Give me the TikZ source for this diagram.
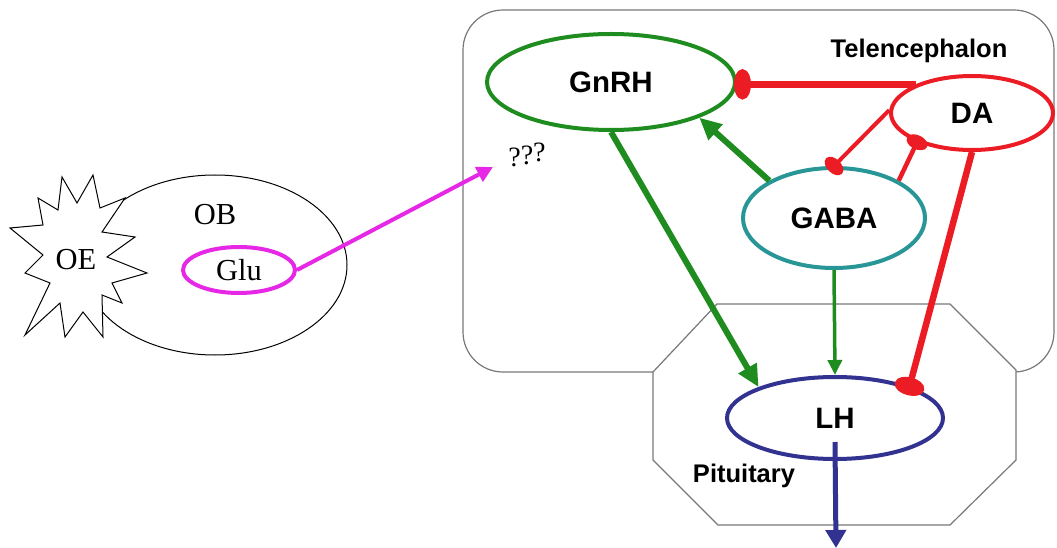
\documentclass[tikz,border=0pt]{standalone}
\usepackage{fontspec}
\setmainfont{Liberation Serif}
\newfontfamily\arialfont{Liberation Sans}
\usetikzlibrary{shapes.geometric,arrows.meta}

\definecolor{grn}{RGB}{30,140,30}
\definecolor{rd}{RGB}{236,28,36}
\definecolor{teal2}{RGB}{40,150,150}
\definecolor{blu}{RGB}{50,50,145}
\definecolor{mag}{RGB}{230,40,230}
\definecolor{edge}{RGB}{120,120,120}

\tikzset{
  region/.style={draw=edge, line width=1.2pt},
  hormone/.style={ellipse, line width=4pt, inner sep=2pt,
    font=\arialfont\bfseries\fontsize{29.5}{30}\selectfont},
  areatext/.style={font=\arialfont\bfseries\fontsize{25.5}{27}\selectfont},
  serif/.style={font=\fontsize{30.5}{32}\selectfont},
  excite/.style={draw=grn, line width=6pt, -{Triangle[length=22pt,width=20pt]}},
  weakexcite/.style={draw=grn, line width=3.5pt, -{Triangle[length=15pt,width=14pt]}},
  inhib/.style={draw=rd, line width=#1},
  inhib/.default=6.5pt
}

\begin{document}
\begin{tikzpicture}[x=1pt,y=-1pt]
\useasboundingbox (0,0) rectangle (1057,548);

% olfactory side
\node[ellipse, draw, line width=1pt, minimum width=264pt, minimum height=180pt] (ob) at (215,265) {};
\draw[line width=1pt, fill=white]
  (62,177) -- (77,203) -- (93,175) -- (100,208) -- (125,198) -- (102,232)
  -- (135,237) -- (107,257) -- (147,273) -- (112,283) -- (122,303) -- (102,295)
  -- (103,337) -- (83,312) -- (65,337) -- (60,303) -- (25,335) -- (50,283)
  -- (25,273) -- (43,255) -- (10,228) -- (43,225) -- (38,198) -- (58,210) -- cycle;
\node[serif] (oe) at (76,260) {OE};
\node[serif] (oblabel) at (215,215) {OB};
\node[ellipse, draw=mag, line width=4pt, inner sep=1pt, minimum width=112pt,
      minimum height=46pt, serif] (glu) at (239,270) {Glu};

% brain regions
\draw[region, rounded corners=40pt] (463,10) rectangle (1054,372);
\draw[region, fill=white] (717,304) -- (950,304) -- (1016,370) -- (1016,460)
  -- (950,525) -- (718,525) -- (653,460) -- (653,372) -- cycle;
\node[areatext, anchor=base] (telen) at (919,58) {Telencephalon};
\node[areatext, anchor=base] (pit) at (744,482) {Pituitary};

% unknown target of the olfactory input
\node[font=\fontsize{28}{30}\selectfont, inner sep=0pt] (q) at (527,155)
  {?\raisebox{2pt}{?}\raisebox{5pt}{?}};
\coordinate (qa) at (493,167);
\draw[draw=mag, line width=4pt, -{Triangle[length=16pt,width=16pt]}] (glu.east) -- (qa);

% hormone populations
\node[hormone, draw=grn, minimum width=248pt, minimum height=96pt] (gnrh) at (611,82) {GnRH};
\node[hormone, draw=rd, minimum width=162pt, minimum height=74pt] (da) at (972,113) {DA};
\node[hormone, draw=teal2, minimum width=182pt, minimum height=100pt] (gaba) at (834,218) {GABA};
\node[hormone, draw=blu, minimum width=216pt, minimum height=82pt] (lh) at (835,418) {LH};

% stimulatory links
\draw[excite] (gaba.150) -- (gnrh.-22);
\draw[excite] (gnrh.south) -- (lh.158);
\draw[weakexcite] (gaba.south) -- (lh.north);

% inhibitory links
\draw[inhib, -{Ellipse[length=17pt,width=30pt]}, shorten >=-3pt]
  (da.153) -- (da.153 -| gnrh.east);
\draw[inhib=4pt, -{Ellipse[length=14pt,width=22pt]}, shorten >=-7pt]
  (da.178) -- (gaba.north);
\draw[inhib=4.5pt, -{Ellipse[length=14pt,width=22pt]}, shorten >=-7pt]
  (gaba.30) -- (da.208);
\draw[inhib, -{Ellipse[length=18pt,width=30pt]}, shorten >=-9pt]
  (da.south) -- (lh.23);

% output
\coordinate (out) at (836,548);
\draw[draw=blu, line width=5pt, -{Triangle[length=18pt,width=20pt]}]
  ([yshift=-24pt]lh.center) -- (out);
\end{tikzpicture}
\end{document}
